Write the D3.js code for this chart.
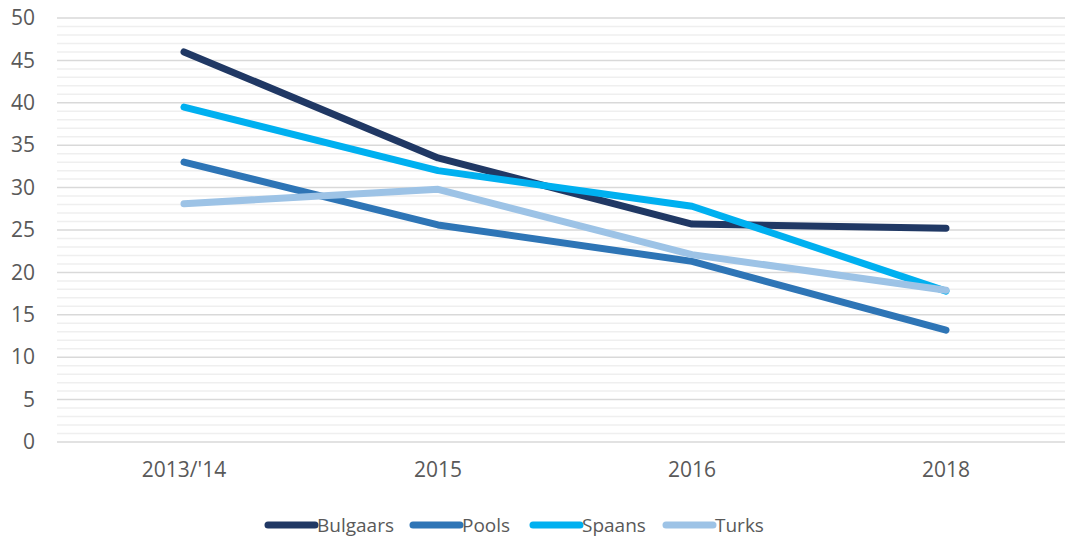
<!DOCTYPE html>
<html>
<head>
<meta charset="utf-8">
<script src="https://cdn.jsdelivr.net/npm/d3@7"></script>
<style>
	body { margin: 0; background: #fff; }
	text { font-family: "Open Sans", "Noto Sans", sans-serif; fill: #595959; }
</style>
</head>
<body>
<div id="chart"></div>
<script>
'use strict';
(function(){

	// data
	var categories = ["2013/'14", '2015', '2016', '2018'];
	var seriesNames = ['Bulgaars', 'Pools', 'Spaans', 'Turks'];
	var bulgaars = [46.0, 33.5, 25.7, 25.2];
	var pools = [33.0, 25.6, 21.3, 13.2];
	var spaans = [39.5, 32.0, 27.8, 17.8];
	var turks = [28.1, 29.8, 22.1, 17.9];
	var yTicks = [0, 5, 10, 15, 20, 25, 30, 35, 40, 45, 50];
	var colors = ['#203864', '#2e75b6', '#00b0f0', '#9dc3e6'];

	var series = [bulgaars, pools, spaans, turks];

	var width = 1065, height = 537;
	var plot = { left: 57, right: 1073, top: 18, bottom: 442 };

	var svg = d3.select('#chart')
		.append('svg')
		.attr('width', width)
		.attr('height', height);

	var x = d3.scaleBand()
		.domain(categories)
		.range([plot.left, plot.right]);

	var y = d3.scaleLinear()
		.domain([0, 50])
		.range([plot.bottom, plot.top]);

	// minor grid
	svg.append('g')
		.selectAll('line')
		.data(d3.range(0, 51, 1).filter(function (d) { return d % 5 !== 0; }))
		.enter()
		.append('line')
		.attr('x1', plot.left)
		.attr('x2', width)
		.attr('y1', function (d) { return y(d); })
		.attr('y2', function (d) { return y(d); })
		.attr('stroke', '#efefef')
		.attr('stroke-width', 1.5);

	// major grid
	svg.append('g')
		.selectAll('line')
		.data(yTicks)
		.enter()
		.append('line')
		.attr('x1', plot.left)
		.attr('x2', width)
		.attr('y1', function (d) { return y(d); })
		.attr('y2', function (d) { return y(d); })
		.attr('stroke', '#d9d9d9')
		.attr('stroke-width', 1.5);

	// y axis labels
	var yAxis = svg.append('g')
		.attr('transform', 'translate(' + (plot.left - 22) + ',0)')
		.call(d3.axisLeft(y).tickValues(yTicks).tickSize(0).tickPadding(0));
	yAxis.select('.domain').remove();
	yAxis.selectAll('text')
		.style('font-size', '21px')
		.attr('fill', '#595959');

	// x axis labels
	var xAxis = svg.append('g')
		.attr('transform', 'translate(0,' + (plot.bottom + 20) + ')')
		.call(d3.axisBottom(x).tickSize(0).tickPadding(0));
	xAxis.select('.domain').remove();
	xAxis.selectAll('text')
		.style('font-size', '21px')
		.attr('fill', '#595959');

	// lines
	var line = d3.line()
		.x(function (d, i) { return x(categories[i]) + x.bandwidth() / 2; })
		.y(function (d) { return y(d); });

	svg.append('g')
		.selectAll('path')
		.data(series)
		.enter()
		.append('path')
		.attr('d', line)
		.attr('fill', 'none')
		.attr('stroke', function (d, i) { return colors[i]; })
		.attr('stroke-width', 7)
		.attr('stroke-linecap', 'round')
		.attr('stroke-linejoin', 'round');

	// legend
	var legendX = [268, 413, 533, 666];
	var legend = svg.append('g')
		.selectAll('g')
		.data(seriesNames)
		.enter()
		.append('g')
		.attr('transform', function (d, i) { return 'translate(' + legendX[i] + ',525)'; });

	legend.append('line')
		.attr('x1', 0)
		.attr('x2', 47)
		.attr('stroke', function (d, i) { return colors[i]; })
		.attr('stroke-width', 7)
		.attr('stroke-linecap', 'round');

	legend.append('text')
		.attr('x', 49)
		.attr('y', 7)
		.style('font-size', '19px')
		.text(function (d) { return d; });

}());
</script>
</body>
</html>
